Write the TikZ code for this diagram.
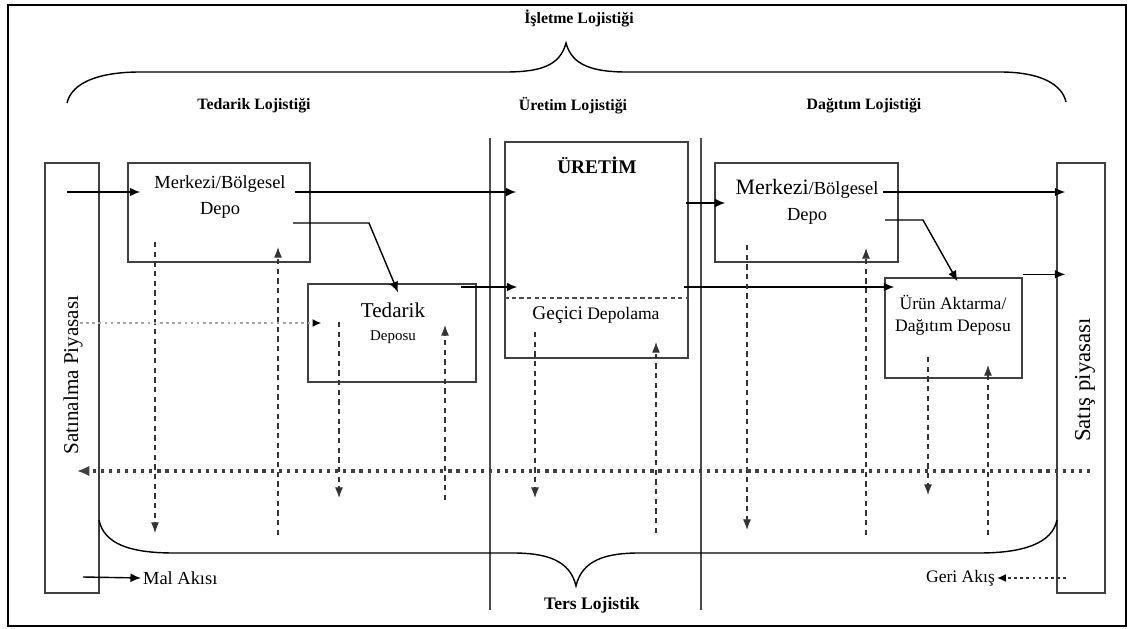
\documentclass[tikz,border=0pt]{standalone}
\usepackage{fontspec}
\setmainfont{Liberation Serif}
\usetikzlibrary{arrows.meta, calc}

\begin{document}
\begin{tikzpicture}[
  x=0.02cm, y=-0.02cm,
  box/.style={draw=black!75, line width=0.8pt, inner sep=0pt},
  txt/.style={inner sep=1pt, align=center, font=\fontsize{10.5}{15}\selectfont},
  head/.style={inner sep=1pt, font=\bfseries\fontsize{9}{11}\selectfont},
  arr/.style={-{Latex[length=6pt, width=5pt]}, line width=0.8pt},
  back/.style={-{Latex[length=6pt, width=4.5pt]}, line width=0.6pt, black!80, dash pattern=on 3pt off 2.5pt},
  ret/.style={-{Latex[length=7pt, width=6pt]}, line width=1.8pt, black!75, dash pattern=on 1.8pt off 2.8pt},
  faint/.style={-{Latex[length=5pt, width=4.5pt, black]}, line width=0.8pt, black!35, dash pattern=on 1.5pt off 2pt},
  brc/.style={line width=0.8pt},
  sect/.style={black!70, line width=1pt},
]
\useasboundingbox (0,0) rectangle (1134,629);
\draw[line width=1.2pt] (8,5) rectangle (1126,626);

% Ust baslik ve parantez
\node[head] (islet) at (579,18) {İşletme Lojistiği};
\draw[brc] (67,103) .. controls (72,82) and (100,72) .. (140,72) -- (505,72)
  .. controls (540,72) and (560,66) .. (566,43)
  .. controls (572,66) and (594,72) .. (627,72) -- (1000,72)
  .. controls (1040,72) and (1062,84) .. (1066,102);

\node[head] (tedl) at (254,106) {Tedarik Lojistiği};
\node[head] (uretl) at (573,106) {Üretim Lojistiği};
\node[head] (dagl) at (864,106) {Dağıtım Lojistiği};

% Bolum cizgileri
\draw[sect] (490,138) -- (490,610);
\draw[sect] (701,138) -- (701,610);

% Piyasalar
\node[box, minimum width=1.08cm, minimum height=8.6cm] (satin) at (72,378) {};
\node[rotate=90, inner sep=0pt, font=\fontsize{12}{14}\selectfont] (satintxt) at (73,375) {Satınalma Piyasası};
\node[box, minimum width=0.96cm, minimum height=8.6cm] (satis) at (1081,378) {};
\node[rotate=90, inner sep=0pt, font=\fontsize{13}{15}\selectfont] (satistxt) at (1085,380) {Satış piyasası};

% Depolar
\node[box, minimum width=3.64cm, minimum height=1.98cm] (mbl) at (219,212.5) {};
\node[txt] (mbltxt) at (220,197) {Merkezi/Bölgesel\\Depo};
\node[box, minimum width=3.36cm, minimum height=1.96cm] (ted) at (392,333) {};
\node[txt] (tedtxt) at (393,323) {{\fontsize{12}{14}\selectfont Tedarik}\\[-2pt]{\fontsize{8.5}{10}\selectfont Deposu}};
\node[box, minimum width=3.66cm, minimum height=4.32cm] (uret) at (596.5,250) {};
\node[inner sep=1pt, font=\bfseries\fontsize{11}{13}\selectfont] (urettxt) at (597,165) {ÜRETİM};
\coordinate (gc) at (596,298);
\draw[black!70, line width=0.7pt, dash pattern=on 2.5pt off 1.8pt] (gc -| uret.west) -- (gc -| uret.east);
\node[inner sep=1pt, font=\fontsize{10}{12}\selectfont] (gectxt) at (596,315) {{\fontsize{11}{13}\selectfont Geçici} Depolama};
\node[box, minimum width=3.66cm, minimum height=1.98cm] (mbr) at (806.5,212.5) {};
\node[txt] (mbrtxt) at (807,202) {{\fontsize{12.5}{14}\selectfont Merkezi}/Bölgesel\\Depo};
\node[box, minimum width=2.74cm, minimum height=2cm] (urun) at (953.5,328) {};
\node[txt, font=\fontsize{10}{12.5}\selectfont] (uruntxt) at (953,315) {Ürün Aktarma/\\Dağıtım Deposu};

% Mal akisi
\coordinate (p1) at (67,192);
\draw[arr, shorten >=-0.26cm] (p1) -- (p1 -| mbl.west);
\coordinate (p2) at (295,192);
\draw[arr, shorten >=-0.24cm] (p2) -- (p2 -| uret.west);
\coordinate (p3) at (293,223);
\draw[arr] (p3) -- ++(76,0) -- ($(ted.north)+(6,9)$);
\coordinate (p4) at (461,287);
\draw[arr, shorten >=-0.26cm] (p4) -- (p4 -| uret.west);
\coordinate (p5) at (686,203);
\draw[arr, shorten >=-0.22cm] (p5) -- (p5 -| mbr.west);
\coordinate (p6) at (684,287);
\draw[arr, shorten >=-0.2cm] (p6) -- (p6 -| urun.west);
\coordinate (p7) at (883,192);
\draw[arr, shorten >=-0.18cm] (p7) -- (p7 -| satis.west);
\coordinate (p8) at (885,220);
\draw[arr] (p8) -- ++(38,0) -- ($(urun.north)+(4,4)$);
\coordinate (p9) at ($(urun.north east)+(0,-3)$);
\draw[arr, shorten >=-0.18cm] (p9) -- (p9 -| satis.west);

% Geri akis
\foreach \n/\x/\ya/\yb in {1/155/242/533, 2/339/322/498, 3/535/332/498, 4/747/245/530, 5/928/357/495,
  6/278/535/247, 7/445/500/325, 8/656/533/342, 9/866/535/248, 10/988/535/365} {
  \coordinate (r\n a) at (\x,\ya);
  \coordinate (r\n b) at (\x,\yb);
  \draw[back] (r\n a) -- (r\n b);
}
\coordinate (f0) at (80,323);
\draw[faint, shorten >=-0.28cm] (f0) -- (f0 -| ted.west);
\coordinate (ret0) at (1090,471);
\coordinate (ret1) at (77,471);
\draw[ret] (ret0) -- (ret1);

% Alt parantez
\draw[brc] (99,520) .. controls (104,544) and (130,553) .. (174,553) -- (513,553)
  .. controls (546,553) and (570,560) .. (576,586)
  .. controls (582,560) and (606,553) .. (639,553) -- (979,553)
  .. controls (1022,553) and (1052,544) .. (1057,520);
\node[inner sep=1pt, font=\bfseries\fontsize{10}{12}\selectfont] (terstxt) at (592,605) {Ters Lojistik};

% Aciklama
\coordinate (m0) at (83,577);
\node[anchor=west, inner sep=1pt, font=\fontsize{10.5}{12}\selectfont] (maltxt) at (141,578) {Mal Akısı};
\draw[arr] (m0) -- (maltxt.west);
\coordinate (g0) at (1066,578);
\node[anchor=east, inner sep=1pt, font=\fontsize{10}{12}\selectfont] (geritxt) at (997,578) {Geri Akış};
\draw[faint, black!80, line width=0.9pt] (g0) -- (geritxt.east);

\end{tikzpicture}
\end{document}
